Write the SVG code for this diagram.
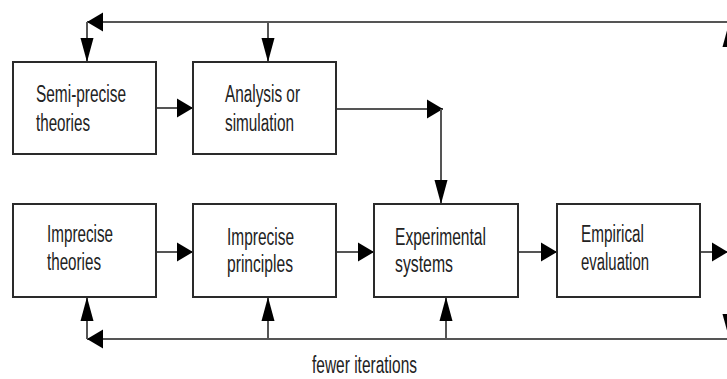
<svg xmlns="http://www.w3.org/2000/svg" width="727" height="379" viewBox="0 0 727 379">
<style>
.box{fill:#fff;stroke:#2a2a2a;stroke-width:2}
.ln{fill:none;stroke:#555;stroke-width:2}
.h{marker-end:url(#ah)}
.v{marker-end:url(#av)}
text{font-family:"Liberation Sans",Arial,sans-serif;font-size:23px;fill:#222}
</style>
<defs>
<marker id="ah" markerUnits="userSpaceOnUse" markerWidth="16" markerHeight="19" refX="16" refY="9.5" orient="auto" overflow="visible">
<path d="M0,0 L16,9.5 L0,19 z" fill="#000"/>
</marker>
<marker id="av" markerUnits="userSpaceOnUse" markerWidth="24" markerHeight="13" refX="24" refY="6.5" orient="auto" overflow="visible">
<path d="M0,0 L24,6.5 L0,13 z" fill="#000"/>
</marker>
</defs>
<rect width="727" height="379" fill="#fff"/>
<g id="connectors">
<path class="ln h" d="M740,22 H87"/>
<path class="ln v" d="M87,22 V62"/>
<path class="ln v" d="M268,22 V62"/>
<path class="ln h" d="M156,108 H193"/>
<path class="ln h" d="M336,109 H443"/>
<path class="ln v" d="M441,109 V204"/>
<path class="ln h" d="M156,252 H193"/>
<path class="ln h" d="M336,252 H374"/>
<path class="ln h" d="M518,252 H557"/>
<path class="ln h" d="M700,252 H728"/>
<path class="ln v" d="M729,253 V23"/>
<path class="ln v" d="M729,253 V338"/>
<path class="ln h" d="M740,339 H87"/>
<path class="ln v" d="M87,339 V297"/>
<path class="ln v" d="M268,339 V297"/>
<path class="ln v" d="M446,339 V297"/>
</g>
<g id="semi-precise-theories">
<rect class="box" x="13" y="62" width="143" height="92"/>
<text x="36" y="102" textLength="90" lengthAdjust="spacingAndGlyphs">Semi-precise</text>
<text x="36" y="131" textLength="54" lengthAdjust="spacingAndGlyphs">theories</text>
</g>
<g id="analysis-or-simulation">
<rect class="box" x="193" y="62" width="143" height="92"/>
<text x="225" y="102" textLength="75" lengthAdjust="spacingAndGlyphs">Analysis or</text>
<text x="225" y="131" textLength="69" lengthAdjust="spacingAndGlyphs">simulation</text>
</g>
<g id="imprecise-theories">
<rect class="box" x="13" y="204" width="143" height="93"/>
<text x="47" y="242" textLength="66" lengthAdjust="spacingAndGlyphs">Imprecise</text>
<text x="47" y="270" textLength="54" lengthAdjust="spacingAndGlyphs">theories</text>
</g>
<g id="imprecise-principles">
<rect class="box" x="193" y="204" width="143" height="93"/>
<text x="227" y="245" textLength="67" lengthAdjust="spacingAndGlyphs">Imprecise</text>
<text x="227" y="272" textLength="66" lengthAdjust="spacingAndGlyphs">principles</text>
</g>
<g id="experimental-systems">
<rect class="box" x="374" y="204" width="144" height="93"/>
<text x="395" y="245" textLength="91" lengthAdjust="spacingAndGlyphs">Experimental</text>
<text x="395" y="272" textLength="58" lengthAdjust="spacingAndGlyphs">systems</text>
</g>
<g id="empirical-evaluation">
<rect class="box" x="557" y="204" width="143" height="93"/>
<text x="581" y="242" textLength="63" lengthAdjust="spacingAndGlyphs">Empirical</text>
<text x="581" y="270" textLength="68" lengthAdjust="spacingAndGlyphs">evaluation</text>
</g>
<g id="label-fewer-iterations">
<text x="312" y="373" textLength="105" lengthAdjust="spacingAndGlyphs">fewer iterations</text>
</g>
</svg>
